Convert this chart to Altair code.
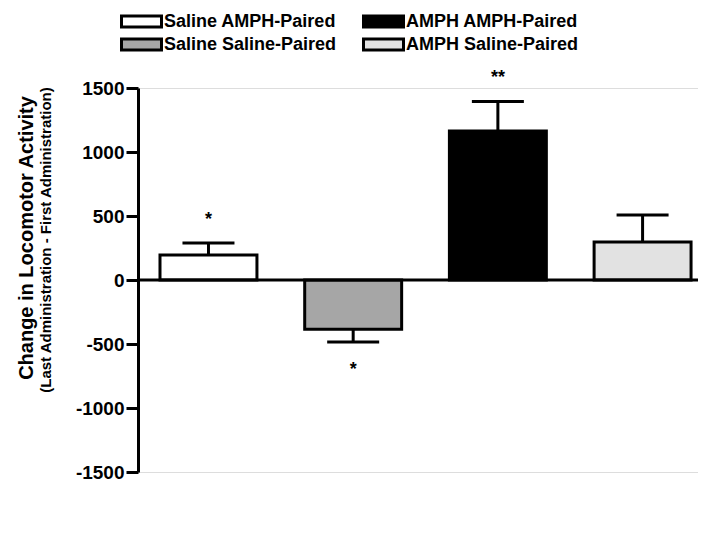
import altair as alt
import pandas as pd

# ---- data ----
groups = ["Saline AMPH-Paired", "Saline Saline-Paired", "AMPH AMPH-Paired", "AMPH Saline-Paired"]
means = [195, -385, 1165, 297]
sems = [95, 100, 230, 211]
stars = ["*", "*", "**", ""]
star_pos = [500, -672, 1609, 0]

# legend is laid out column by column: col 1 = Saline..., col 2 = AMPH...
legend_order = ["Saline AMPH-Paired", "Saline Saline-Paired", "AMPH AMPH-Paired", "AMPH Saline-Paired"]
legend_fills = ["#ffffff", "#a6a6a6", "#000000", "#e2e2e2"]

y_ticks = [-1500, -1000, -500, 0, 500, 1000, 1500]
title_main = ["Change in Locomotor Activity"]
title_sub = ["(Last Administration - First Administration)"]

df = pd.DataFrame({
    "group": groups,
    "mean": means,
    "sem": sems,
    "star": stars,
    "star_y": star_pos,
})
df["end"] = [m + (s if m >= 0 else -s) for m, s in zip(means, sems)]

FONT = "Liberation Sans"

x_enc = alt.X("group:N", sort=groups, axis=None,
              scale=alt.Scale(paddingInner=0.33, paddingOuter=0.1, align=0.76))
y_scale = alt.Scale(domain=[-1500, 1500], nice=False, zero=False)

base = alt.Chart(df)

bars = base.mark_bar(stroke="black", strokeWidth=3).encode(
    x=x_enc,
    y=alt.Y("mean:Q", scale=y_scale,
            axis=alt.Axis(values=y_ticks, title=None, grid=False, tickSize=12, tickWidth=3,
                          domainWidth=3, domainColor="black", tickColor="black",
                          labelFontSize=19, labelFontWeight="bold", labelColor="black",
                          labelPadding=2, labelFont=FONT,
                          labelExpr="'' + datum.value")),
    y2=alt.datum(0),
    fill=alt.Fill("group:N",
                  scale=alt.Scale(domain=legend_order, range=legend_fills),
                  legend=alt.Legend(title=None, orient="none", legendX=-8, legendY=-78,
                                    values=legend_order,
                                    columns=2, columnPadding=20, rowPadding=0,
                                    symbolType="M-2,-0.55H2V0.55H-2Z", symbolSize=400,
                                    symbolStrokeColor="black", symbolStrokeWidth=3,
                                    labelFontSize=18, labelFontWeight="bold", labelFont=FONT,
                                    labelColor="black", labelOffset=11, padding=0,
                                    labelLimit=300)),
)

err = base.mark_rule(color="black", strokeWidth=3).encode(
    x=x_enc, y=alt.Y("mean:Q", scale=y_scale), y2="end:Q")

caps = base.mark_tick(color="black", thickness=3, size=52, opacity=1).encode(
    x=x_enc, y=alt.Y("end:Q", scale=y_scale))

zero = alt.Chart(pd.DataFrame({"z": [0]})).mark_rule(color="black", strokeWidth=3).encode(
    y=alt.Y("z:Q", scale=y_scale))

star_txt = base.mark_text(fontSize=18, font=FONT, fontWeight="bold", color="black",
                          baseline="middle", dy=4).encode(
    x=x_enc, y=alt.Y("star_y:Q", scale=y_scale), text="star:N")

t1 = alt.Chart(pd.DataFrame({"t": title_main})).mark_text(
    angle=270, fontSize=20, fontWeight="bold", font=FONT, color="black",
    align="center", baseline="middle").encode(
    x=alt.value(-111), y=alt.value(150), text="t:N")

t2 = alt.Chart(pd.DataFrame({"t": title_sub})).mark_text(
    angle=270, fontSize=15, fontWeight="bold", font=FONT, color="black",
    align="center", baseline="middle").encode(
    x=alt.value(-92), y=alt.value(152), text="t:N")

chart = alt.layer(bars, zero, err, caps, star_txt, t1, t2).properties(
    width=560, height=384,
    autosize=alt.AutoSizeParams(type="none"),
    padding={"left": 130, "top": 80, "right": 0, "bottom": 40},
).configure_view(stroke=None).configure(font=FONT)

chart.save("out.html", embed_options={"renderer": "svg", "actions": False})
